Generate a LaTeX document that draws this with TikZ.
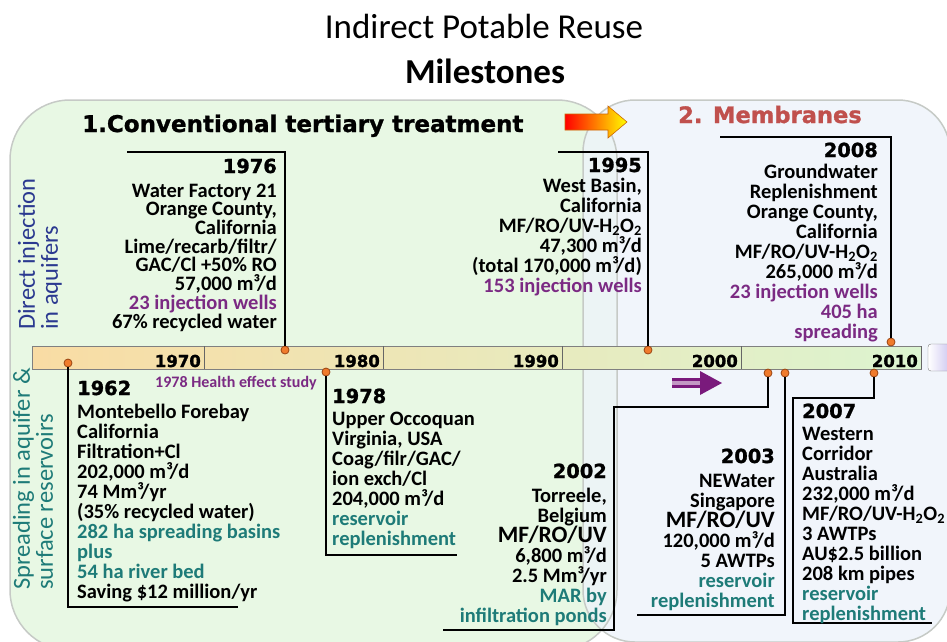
\documentclass[tikz,border=0pt]{standalone}
\usepackage{fontspec}
\setmainfont{Carlito}
\newfontfamily\heavyfont{DejaVu Sans}[BoldFeatures={FakeBold=1.2}]
\usetikzlibrary{positioning}
\definecolor{zonegreen}{HTML}{E8F8E4}
\definecolor{zoneblue}{HTML}{EDF3FA}
\definecolor{zoneedge}{HTML}{C6CAC6}
\definecolor{purptxt}{HTML}{7B2A83}
\definecolor{tealtxt}{HTML}{1E7B78}
\definecolor{navytxt}{HTML}{2B3990}
\definecolor{membred}{HTML}{C0504D}
\definecolor{dotfill}{HTML}{F07B2C}
\definecolor{dotedge}{HTML}{9A4412}
\definecolor{arrowpurple}{HTML}{7A1A7C}
\definecolor{barpeach}{HTML}{F9DCA4}
\definecolor{baryellow}{HTML}{F3EFC4}
\definecolor{bargreen}{HTML}{DCF4D0}
\definecolor{lavender}{HTML}{C4BCEE}
\tikzset{
	yearlbl/.style={font=\heavyfont\bfseries\fontsize{19.4}{20}\selectfont, inner sep=0pt},
	boxtxt/.style={font=\bfseries\fontsize{20.5}{20}\selectfont, inner sep=0pt},
	decade/.style={font=\heavyfont\bfseries\fontsize{16.5}{17}\selectfont, inner sep=0pt, anchor=base east},
	sidelbl/.style={font=\fontsize{24.5}{23}\selectfont, inner sep=0pt, rotate=90, anchor=west, align=left},
	milestone/.style={circle, draw=dotedge, fill=dotfill, line width=0.8pt, inner sep=0pt, minimum size=8pt},
	link/.style={line width=2.2pt},
	zone/.style={draw=zoneedge, line width=1.5pt},
}
\newcommand{\purptext}[1]{\textcolor{purptxt}{#1}}
\newcommand{\tealtext}[1]{\textcolor{tealtxt}{#1}}
\newcommand{\hho}{H\textsubscript{2}O\textsubscript{2}}
\begin{document}
\begin{tikzpicture}[x=1pt,y=-1pt]
	\useasboundingbox (0,0) rectangle (947,641);
	\clip (0,0) rectangle (947,641);
	\fill[zonegreen, rounded corners=60pt] (10,100) rectangle (617,650);
	\fill[zoneblue, opacity=0.8, rounded corners=52pt] (583,100) rectangle (950,642);
	\draw[zone, rounded corners=60pt] (10,100) rectangle (617,650);
	\draw[zone, rounded corners=52pt] (583,100) rectangle (950,642);

	\node[font=\fontsize{35}{40}\selectfont, anchor=base] (title) at (484,38) {Indirect Potable Reuse};
	\node[font=\bfseries\fontsize{35}{40}\selectfont, anchor=base] (subtitle) at (485,83) {Milestones};
	\node[font=\heavyfont\bfseries\fontsize{23}{24}\selectfont, anchor=base west, inner sep=0pt] (conv) at (82,132) {1.Conventional tertiary treatment};
	\node[font=\heavyfont\bfseries\fontsize{22.6}{24}\selectfont, anchor=base west, inner sep=0pt, text=membred] (memb) at (678,123) {2. Membranes};
	\shade[left color=red, right color=yellow, draw=orange!80!black, line width=0.6pt] (565,114) -- (608,114) -- (608,106) -- (627,122) -- (608,138) -- (608,130) -- (565,130) -- cycle;

	\node[sidelbl, text=navytxt] (side1) at (40,330) {Direct injection\\in aquifers};
	\node[sidelbl, text=tealtxt] (side2) at (33,590) {Spreading in aquifer \&\\surface reservoirs};

	\shade[left color=barpeach, middle color=baryellow, right color=bargreen] (32,346) rectangle (921,369);
	\draw[gray, line width=1pt] (32,346) rectangle (921,369);
	\foreach \x/\yr in {204/1970,383/1980,562/1990,741/2000,921/2010} {
		\draw[gray!80!black, line width=1pt] (\x,346) -- (\x,369);
		\node[decade] (dec\yr) at (\x-3,367) {\yr};
	}
	\shade[left color=white, right color=lavender, draw=gray, rounded corners=3pt] (928,344) rectangle (955,371);
	\draw[arrowpurple, line width=3pt, double=arrowpurple!45, double distance=3.5pt] (672,383) -- (701,383);
	\fill[arrowpurple] (700,371) -- (722,383) -- (700,395) -- cycle;

	\node[milestone] (d1962) at (68,363) {};
	\node[milestone] (d1976) at (285,350) {};
	\node[milestone] (d1978) at (326,372) {};
	\node[milestone] (d1995) at (648,350) {};
	\node[milestone] (d2002) at (768,373) {};
	\node[milestone] (d2003) at (785,373) {};
	\node[milestone] (d2007) at (874,373) {};
	\node[milestone] (d2008) at (891,342) {};
	\coordinate (e1962) at (238,607);
	\coordinate (e1976) at (127,152);
	\coordinate (e1978) at (457,555);
	\coordinate (e1995) at (558,152);
	\coordinate (k2002) at (614,407);
	\coordinate (e2002) at (443,630);
	\coordinate (e2003) at (637,615);
	\coordinate (k2007) at (793,398);
	\coordinate (e2007) at (932,623);
	\coordinate (e2008) at (720,137);
	\draw[link] (d1962) |- (e1962);
	\draw[link] (d1976) |- (e1976);
	\draw[link] (d1978) |- (e1978);
	\draw[link] (d1995) |- (e1995);
	\draw[link] (d2002) |- (k2002) |- (e2002);
	\draw[link] (d2003) |- (e2003);
	\draw[link] (d2007) |- (k2007) |- (e2007);
	\draw[link] (d2008) |- (e2008);

	\node[yearlbl, anchor=base west] (y1962) at (77,395) {1962};
	\node[boxtxt, align=left, anchor=base west] (t1962) at (77,598) {Montebello Forebay\\California\\Filtration+Cl\\202,000 m³/d\\74 Mm³/yr\\(35\% recycled water)\\\tealtext{282 ha spreading basins}\\\tealtext{plus}\\\tealtext{54 ha river bed}\\Saving \$12 million/yr};
	\node[font=\bfseries\fontsize{16}{17}\selectfont, text=purptxt, anchor=base west, inner sep=0pt] (health) at (155,387) {1978 Health effect study};

	\node[yearlbl, anchor=base east] (y1976) at (277,173) {1976};
	\node[boxtxt, font=\bfseries\fontsize{20.5}{18.7}\selectfont, align=right, anchor=base east] (t1976) at (277,328) {Water Factory 21\\Orange County,\\California\\Lime/recarb/filtr/\\GAC/Cl +50\% RO\\57,000 m³/d\\\purptext{23 injection wells}\\67\% recycled water};

	\node[yearlbl, anchor=base west] (y1978) at (332,403) {1978};
	\node[boxtxt, align=left, anchor=base west] (t1978) at (332,545) {Upper Occoquan\\Virginia, USA\\Coag/filr/GAC/\\ion exch/Cl\\204,000 m³/d\\\tealtext{reservoir}\\\tealtext{replenishment}};

	\node[yearlbl, anchor=base east] (y1995) at (642,172) {1995};
	\node[boxtxt, align=right, anchor=base east] (t1995) at (642,292) {West Basin,\\California\\MF/RO/UV-\hho\\47,300 m³/d\\(total 170,000 m³/d)\\\purptext{153 injection wells}};

	\node[yearlbl, anchor=base east] (y2008) at (878,157) {2008};
	\node[boxtxt, align=right, anchor=base east] (t2008) at (878,338) {Groundwater\\Replenishment\\Orange County,\\California\\MF/RO/UV-\hho\\265,000 m³/d\\\purptext{23 injection wells}\\\purptext{405 ha}\\\purptext{spreading}};

	\node[yearlbl, anchor=base east] (y2002) at (607,478) {2002};
	\node[boxtxt, align=right, anchor=base east] (t2002) at (607,622) {Torreele,\\Belgium\\{\fontsize{23.5}{22}\selectfont MF/RO/UV}\\6,800 m³/d\\2.5 Mm³/yr\\\tealtext{MAR by}\\\tealtext{infiltration ponds}};

	\node[yearlbl, anchor=base east] (y2003) at (775,463) {2003};
	\node[boxtxt, align=right, anchor=base east] (t2003) at (775,607) {NEWater\\Singapore\\{\fontsize{23.5}{22}\selectfont MF/RO/UV}\\120,000 m³/d\\5 AWTPs\\\tealtext{reservoir}\\\tealtext{replenishment}};

	\node[yearlbl, anchor=base west] (y2007) at (802,418) {2007};
	\node[boxtxt, align=left, anchor=base west] (t2007) at (802,620) {Western\\Corridor\\Australia\\232,000 m³/d\\MF/RO/UV-\hho\\3 AWTPs\\AU\$2.5 billion\\208 km pipes\\\tealtext{reservoir}\\\tealtext{replenishment}};
\end{tikzpicture}
\end{document}
